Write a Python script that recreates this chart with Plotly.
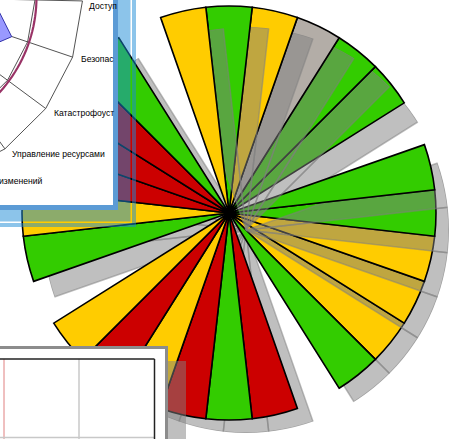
import math
import plotly.graph_objects as go

W, H = 449, 439

# ---------------- data ----------------
N_SLOTS = 28
slot_status = ["green", "yellow", "gray", "green", "green", None, "green", "green",
               "yellow", "yellow", "yellow", "green", None, "red", "green", "red",
               "yellow", "red", "yellow", None, "green", "yellow", "red", "red",
               "red", "green", None, "yellow"]
slot_level = [1.0, 1.0, 1.0, 1.0, 1.0, 0.0, 1.0, 1.0,
              1.0, 1.0, 1.0, 1.0, 0.0, 1.0, 1.0, 1.0,
              1.0, 1.0, 1.0, 0.0, 1.0, 1.0, 1.0, 1.0,
              1.0, 1.0, 0.0, 1.0]
status_colors = {"green": "#33cc00", "yellow": "#ffcc00", "red": "#cc0000", "gray": "#b3ada7"}
radar_labels = ["Доступ", "Безопас", "Катастрофоуст", "Управление ресурсами", "изменений"]

# draw order (bottom -> top); each group = shadow layer then wedge layer
draw_groups = [[4, 10, 11, 13, 14, 15, 16, 17, 18, 20, 21, 22, 23, 24, 25],
               [9], [8], [7], [6], [3], [2], [1], [0], [27]]

# ---------------- geometry / style ----------------
CX, CY, R = 229, 213, 207
SH_CX, SH_CY = 246, 230
SHADOW = "rgba(128,128,128,0.5)"
RMAX_MAIN = 1.01
HALF_MAIN = R * RMAX_MAIN
HALF_SH = 203.0
RMAX_SH = 1.0


def dom(cx, cy, half):
    return dict(x=[max(0.0, (cx - half) / W), min(1.0, (cx + half) / W)],
                y=[max(0.0, (H - cy - half) / H), min(1.0, (H - cy + half) / H)])


def polar_layout(domain, rmax):
    return dict(domain=domain, bgcolor="rgba(0,0,0,0)", bargap=0, hole=0,
                radialaxis=dict(visible=False, range=[0, rmax]),
                angularaxis=dict(visible=False, direction="clockwise", rotation=90))


fig = go.Figure()
polars = {}
pid = 0


def pname(i):
    return "polar" if i == 1 else "polar%d" % i


step = 360.0 / N_SLOTS
for group in draw_groups:
    slots = [k for k in group if slot_status[k]]
    theta = [k * step for k in slots]
    r = [slot_level[k] for k in slots]
    cols = [status_colors[slot_status[k]] for k in slots]
    # shadow
    pid += 1
    nm = pname(pid)
    fig.add_trace(go.Barpolar(r=r, theta=theta, width=[step] * len(slots), subplot=nm,
                              marker=dict(color=SHADOW, line=dict(color=SHADOW, width=1.5)),
                              hoverinfo="skip", showlegend=False))
    polars[nm] = polar_layout(dom(SH_CX, SH_CY, HALF_SH), RMAX_SH)
    # wedges
    pid += 1
    nm = pname(pid)
    fig.add_trace(go.Barpolar(r=r, theta=theta, width=[step] * len(slots), subplot=nm,
                              marker=dict(color=cols, line=dict(color="#000000", width=1.6)),
                              hoverinfo="skip", showlegend=False))
    polars[nm] = polar_layout(dom(CX, CY, HALF_MAIN), RMAX_MAIN)

# helper cartesian axes in pixel units for the overlaid windows
fig.add_trace(go.Scatter(x=[0], y=[0], mode="markers", marker=dict(opacity=0),
                         hoverinfo="skip", showlegend=False))

shapes = []


def rect(x0, y0, x1, y1, fill, lc="rgba(0,0,0,0)", lw=0):
    shapes.append(dict(type="rect", xref="x", yref="y", x0=x0, y0=y0, x1=x1, y1=y1,
                       fillcolor=fill, line=dict(color=lc, width=lw), layer="above"))


def seg(x0, y0, x1, y1, color, width):
    shapes.append(dict(type="line", xref="x", yref="y", x0=x0, y0=y0, x1=x1, y1=y1,
                       line=dict(color=color, width=width), layer="above"))


def path(pts, color, width, fill=None, close=False):
    d = "M " + " L ".join("%.2f,%.2f" % p for p in pts) + (" Z" if close else "")
    shapes.append(dict(type="path", xref="x", yref="y", path=d,
                       fillcolor=fill if fill else "rgba(0,0,0,0)",
                       line=dict(color=color, width=width), layer="above"))


# top-left window (radar screenshot)
FRAME = "rgba(25,137,213,0.5)"
rect(-5, -5, 130.5, 221.5, FRAME)
rect(-5, -5, 134, 225, "rgba(0,0,0,0)", FRAME, 4)
rect(-5, -5, 118, 210, "#5b9bd5")
rect(-5, -5, 113, 205, "#ffffff")

O = (-105.0, -3.0)
spoke_deg = [1.2, 18.7, 36.5, 54.1, 71.8]
rings = [140.0, 187.5]


def rp(a, rr):
    return (O[0] + rr * math.cos(math.radians(a)), O[1] + rr * math.sin(math.radians(a)))


for a in spoke_deg:
    seg(O[0], O[1], *rp(a, rings[-1]), color="#404040", width=0.9)
for rr in rings:
    path([rp(a, rr) for a in spoke_deg], "#404040", 0.9)
# blue series polygon
path([(-8, -2.5), (11.7, 36.7), (-40, 58.8)], "#3333aa", 1, fill="#9999ff", close=True)
# maroon series (smooth)
path([rp(a, 141.5) for a in range(-2, 78, 2)], "#993366", 2.2)

# bottom-left window (table screenshot)
rect(168, 361, 186, 445, SHADOW)
rect(-5, 347.5, 166.5, 445, "#ffffff", "#8c8c8c", 3)
seg(4, 359, 4, 445, "#e08080", 1)
seg(79, 359, 79, 445, "#c8c8c8", 1.5)
seg(-5, 437.5, 154, 437.5, "#c8c8c8", 1.5)
seg(-5, 359, 154.5, 359, "#222222", 1.5)
seg(154.5, 359, 154.5, 445, "#222222", 1.5)

label_pos = [(87, 6, 0), (79, 59, 0), (52, 113, 0), (10, 154, 0), (0, 181, -3)]
annotations = []
for txt, (x, y, xs) in zip(radar_labels, label_pos):
    annotations.append(dict(text=txt, x=x, y=y, xref="x", yref="y", xshift=xs,
                            xanchor="left", yanchor="middle", showarrow=False,
                            font=dict(family="Liberation Sans, Arial, sans-serif",
                                      size=8.6, color="#000000")))

fig.update_layout(
    width=W, height=H, autosize=False,
    margin=dict(l=0, r=0, t=0, b=0, pad=0),
    paper_bgcolor="#ffffff", plot_bgcolor="#ffffff",
    showlegend=False,
    xaxis=dict(range=[0, W], visible=False, domain=[0, 1], fixedrange=True),
    yaxis=dict(range=[H, 0], visible=False, domain=[0, 1], fixedrange=True),
    shapes=shapes, annotations=annotations,
    **polars,
)

fig.write_html("out.html")
